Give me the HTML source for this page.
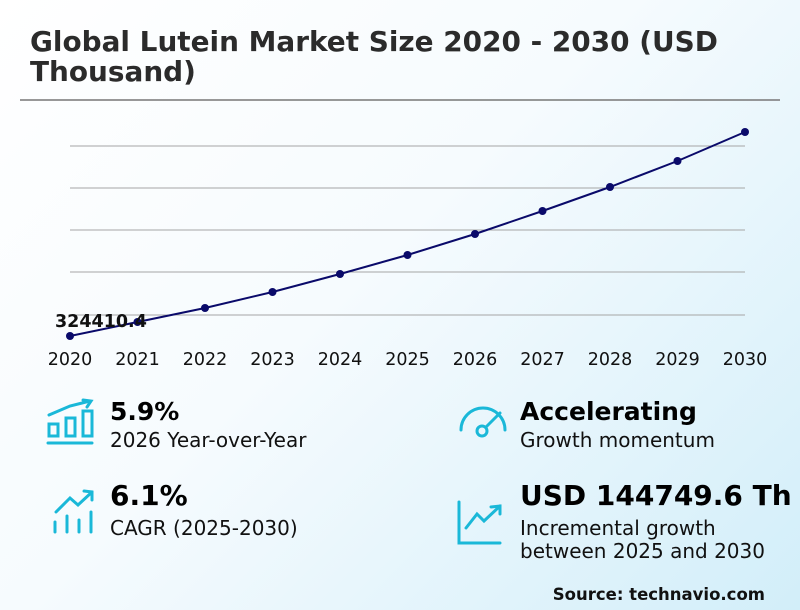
<!DOCTYPE html>
<html><head><meta charset="utf-8"><style>
html,body{margin:0;padding:0}
body{width:800px;height:610px;overflow:hidden;background:linear-gradient(135deg,#ffffff 0%,#f6fbfe 45%,#d2eef9 100%);font-family:"DejaVu Sans",sans-serif}
</style></head><body>
<svg width="800" height="610" xmlns="http://www.w3.org/2000/svg" style="position:absolute;left:0;top:0;font-family:'DejaVu Sans',sans-serif">
<text x="30" y="51" font-size="27.9" font-weight="bold" fill="#2b2b2b">Global Lutein Market Size 2020 - 2030 (USD</text>
<text x="30" y="81" font-size="27.9" font-weight="bold" fill="#2b2b2b">Thousand)</text>
<line x1="20" y1="100" x2="780" y2="100" stroke="#777" stroke-width="1.5"/>
<g stroke="#a5a5a5" stroke-width="1">
<line x1="70" y1="146" x2="745" y2="146"/><line x1="70" y1="188" x2="745" y2="188"/>
<line x1="70" y1="230" x2="745" y2="230"/><line x1="70" y1="272" x2="745" y2="272"/>
<line x1="70" y1="315" x2="745" y2="315"/>
</g>
<polyline fill="none" stroke="#0a0a6a" stroke-width="2" points="70,336 137.5,322 205,308 272.5,292 340,274 407.5,255 475,234 542.5,211 610,187 677.5,161 745,132"/>
<g fill="#0a0a6a">
<circle cx="70" cy="336" r="4"/><circle cx="137.5" cy="322" r="4"/><circle cx="205" cy="308" r="4"/><circle cx="272.5" cy="292" r="4"/><circle cx="340" cy="274" r="4"/><circle cx="407.5" cy="255" r="4"/><circle cx="475" cy="234" r="4"/><circle cx="542.5" cy="211" r="4"/><circle cx="610" cy="187" r="4"/><circle cx="677.5" cy="161" r="4"/><circle cx="745" cy="132" r="4"/>
</g>
<text x="55" y="327" font-size="17.5" font-weight="bold" fill="#111">324410.4</text>
<g font-size="17.5" fill="#111" text-anchor="middle">
<text x="70" y="365">2020</text><text x="137.5" y="365">2021</text><text x="205" y="365">2022</text><text x="272.5" y="365">2023</text><text x="340" y="365">2024</text><text x="407.5" y="365">2025</text><text x="475" y="365">2026</text><text x="542.5" y="365">2027</text><text x="610" y="365">2028</text><text x="677.5" y="365">2029</text><text x="745" y="365">2030</text>
</g>
<g stroke="#1ab8d8" stroke-width="3" fill="none" stroke-linecap="round">
<line x1="48" y1="443" x2="92" y2="443"/>
<rect x="49" y="424" width="9" height="12"/><rect x="66" y="418" width="9" height="18"/><rect x="83" y="411" width="9" height="25"/>
<polyline points="49,415 70,406 90,401"/><polyline points="83,400 91,401 87,407"/>
<polyline points="56,512 70,498 78,505 92,492"/><polyline points="84,491 92,492 92,500"/>
<line x1="55" y1="522" x2="55" y2="532"/><line x1="67" y1="516" x2="67" y2="532"/><line x1="79" y1="520" x2="79" y2="532"/><line x1="91" y1="512" x2="91" y2="532"/>
<path d="M461,430 A22,22 0 0 1 505,430"/>
<circle cx="482" cy="431" r="5"/><line x1="486" y1="427" x2="500" y2="413"/>
<polyline points="459,502 459,543 500,543"/>
<polyline points="466,528 477,514 484,521 500,506"/><polyline points="491,507 500,506 500,514"/>
</g>
<text x="110" y="420" font-size="25" font-weight="bold" fill="#000">5.9%</text>
<text x="110" y="447" font-size="20" fill="#111">2026 Year-over-Year</text>
<text x="110" y="505" font-size="28" font-weight="bold" fill="#000">6.1%</text>
<text x="110" y="535" font-size="20" fill="#111">CAGR (2025-2030)</text>
<text x="520" y="420" font-size="25" font-weight="bold" fill="#000">Accelerating</text>
<text x="520" y="447" font-size="20" fill="#111">Growth momentum</text>
<text x="520" y="505" font-size="28" font-weight="bold" fill="#000">USD 144749.6 Th</text>
<text x="520" y="535" font-size="20" fill="#111">Incremental growth</text>
<text x="520" y="558" font-size="20" fill="#111">between 2025 and 2030</text>
<text x="765" y="600" font-size="16.5" font-weight="bold" fill="#111" text-anchor="end">Source: technavio.com</text>
</svg>
</body></html>
